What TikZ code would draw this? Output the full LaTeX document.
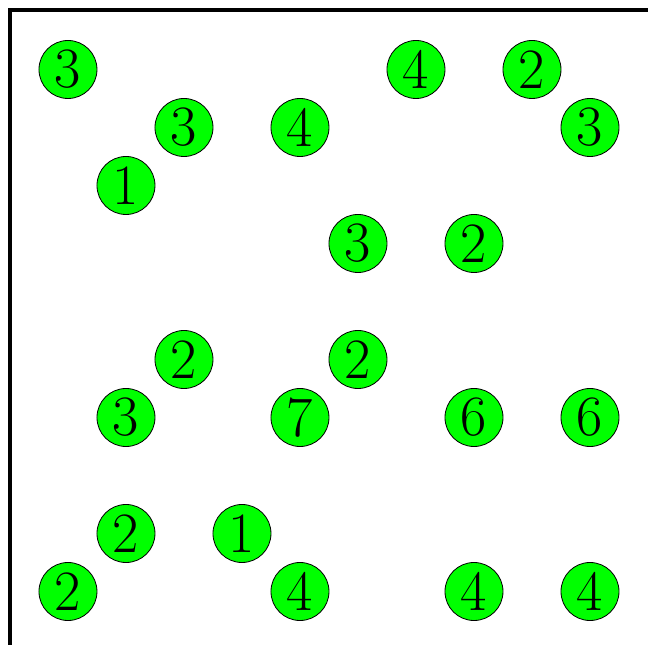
\documentclass[tikz,border=0pt]{standalone}
\usepackage{xcolor}
\usepackage{tikz}
\definecolor{cgreen}{HTML}{00FF00}

\begin{document}
\begin{tikzpicture}[
    cell/.style={circle, draw=black, line width=0.4pt, fill=cgreen, minimum size=1cm, inner sep=0pt, font=\fontsize{28}{30}\selectfont}
]
\useasboundingbox (-1.172, -9.922) rectangle (10.0, 1.198);

% Frame
\draw[line width=2.1pt] (-1, -11) -- (-1, 1.02) -- (11, 1.02);

% Row 0
\node[cell] (a0) at (0, 0) {3};
\node[cell] (a6) at (6, 0) {4};
\node[cell] (a8) at (8, 0) {2};

% Row 1
\node[cell] (b2) at (2, -1) {3};
\node[cell] (b4) at (4, -1) {4};
\node[cell] (b9) at (9, -1) {3};

% Row 2
\node[cell] (c1) at (1, -2) {1};

% Row 3
\node[cell] (d5) at (5, -3) {3};
\node[cell] (d7) at (7, -3) {2};

% Row 5
\node[cell] (f2) at (2, -5) {2};
\node[cell] (f5) at (5, -5) {2};

% Row 6
\node[cell] (g1) at (1, -6) {3};
\node[cell] (g4) at (4, -6) {7};
\node[cell] (g7) at (7, -6) {6};
\node[cell] (g9) at (9, -6) {6};

% Row 8
\node[cell] (i1) at (1, -8) {2};
\node[cell] (i3) at (3, -8) {1};

% Row 9
\node[cell] (j0) at (0, -9) {2};
\node[cell] (j4) at (4, -9) {4};
\node[cell] (j7) at (7, -9) {4};
\node[cell] (j9) at (9, -9) {4};

\end{tikzpicture}
\end{document}
